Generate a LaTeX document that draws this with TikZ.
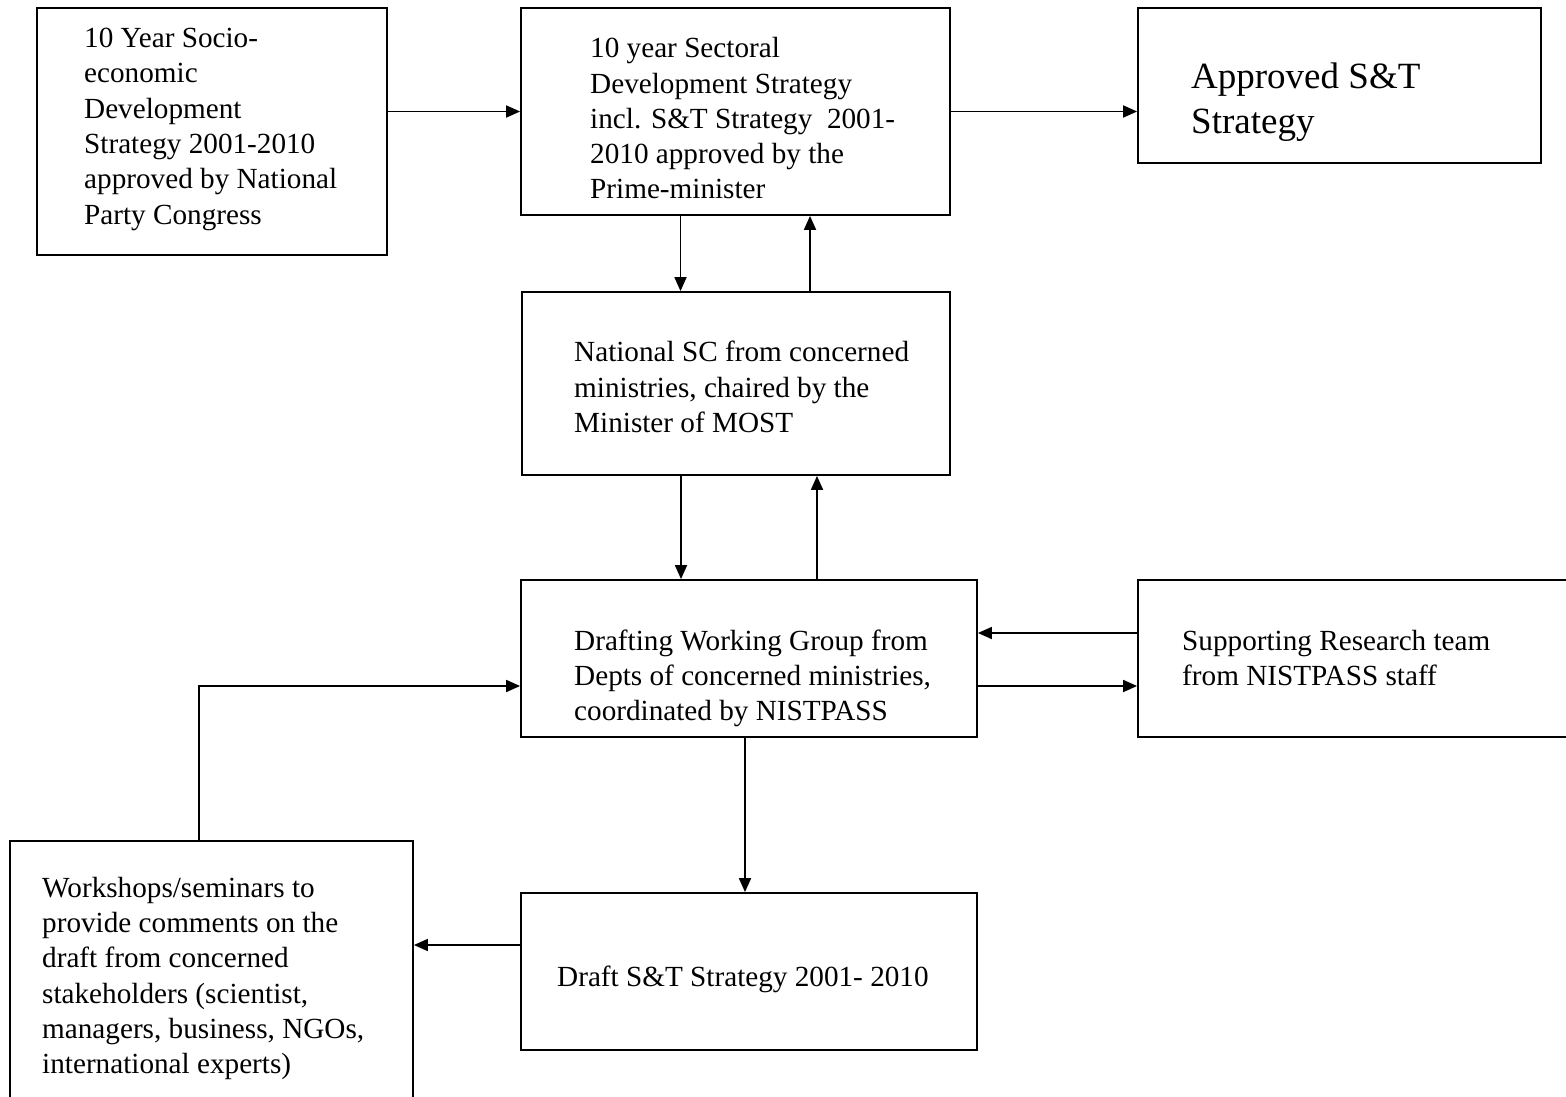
\documentclass[tikz,border=0pt]{standalone}
\usepackage{fontspec}
\setmainfont{Liberation Serif}
\usetikzlibrary{arrows.meta}
\tikzset{
  box/.style={draw, line width=1.8pt, inner sep=0pt},
  txt/.style={anchor=north west, inner sep=0pt, align=left, font=\fontsize{29.2}{35.3}\selectfont},
  bigtxt/.style={txt, font=\fontsize{37}{45}\selectfont},
  arr/.style={line width=1.8pt, -{Triangle[length=14pt,width=12pt]}}
}
\begin{document}
\begin{tikzpicture}[x=1pt,y=-1pt]
        \useasboundingbox (0,0) rectangle (1566,1097);
        %% boxes
        \node[box, minimum width=350pt, minimum height=247pt] (socio) at (212,131.5) {};
        \node[box, minimum width=429pt, minimum height=207pt] (sectoral) at (735.5,111.5) {};
        \node[box, minimum width=403pt, minimum height=155pt] (approved) at (1339.5,85.5) {};
        \node[box, minimum width=428pt, minimum height=183pt] (natsc) at (736,383.5) {};
        \node[box, minimum width=456pt, minimum height=157pt] (drafting) at (749,658.5) {};
        \node[box, minimum width=442pt, minimum height=157pt] (research) at (1359,658.5) {};
        \node[box, minimum width=403pt, minimum height=270pt] (workshops) at (211.5,976) {};
        \node[box, minimum width=456pt, minimum height=157pt] (draftst) at (749,971.5) {};
        %% texts
        \node[txt] (socio-t) at (84,22.6) {\strut 10 Year Socio-\\economic\\Development\\Strategy 2001-2010\\approved by National\\Party Congress};
        \node[txt] (sectoral-t) at (590,32.8) {\strut 10 year Sectoral\\Development Strategy\\incl. S\&T Strategy~ 2001-\\2010 approved by the\\Prime-minister};
        \node[bigtxt] (approved-t) at (1191,56.8) {\strut Approved S\&T\\Strategy};
        \node[txt] (natsc-t) at (574,337) {\strut National SC from concerned\\ministries, chaired by the\\Minister of MOST};
        \node[txt] (drafting-t) at (574,625.3) {\strut Drafting Working Group from\\Depts of concerned ministries,\\coordinated by NISTPASS};
        \node[txt] (research-t) at (1182,625.3) {\strut Supporting Research team\\from NISTPASS staff};
        \node[txt] (workshops-t) at (42,872.3) {\strut Workshops/seminars to\\provide comments on the\\draft from concerned\\stakeholders (scientist,\\managers, business, NGOs,\\international experts)};
        \node[txt] (draftst-t) at (557,961.3) {\strut Draft S\&T Strategy 2001- 2010};
        %% arrows
        \draw[arr] (socio.east |- sectoral.west) -- (sectoral.west);
        \draw[arr] (sectoral.east) -- (sectoral.east -| approved.west);
        \draw[arr] ([xshift=-55pt]sectoral.south) -- ([xshift=-55pt]sectoral.south |- natsc.north);
        \draw[arr] ([xshift=74pt]natsc.north) -- ([xshift=74pt]natsc.north |- sectoral.south);
        \draw[arr] ([xshift=-55pt]natsc.south) -- ([xshift=-55pt]natsc.south |- drafting.north);
        \draw[arr] ([xshift=68pt]drafting.north) -- ([xshift=68pt]drafting.north |- natsc.south);
        \draw[arr] ([yshift=25.5pt]research.west) -- ([yshift=25.5pt]research.west -| drafting.east);
        \draw[arr] ([yshift=-27.5pt]drafting.east) -- ([yshift=-27.5pt]drafting.east -| research.west);
        \draw[arr] ([xshift=-4pt]drafting.south) -- ([xshift=-4pt]drafting.south |- draftst.north);
        \draw[arr] ([yshift=26.5pt]draftst.west) -- ([yshift=26.5pt]draftst.west -| workshops.east);
        \draw[arr] ([xshift=-12.5pt]workshops.north) |- ([yshift=-27.5pt]drafting.west);
\end{tikzpicture}
\end{document}
